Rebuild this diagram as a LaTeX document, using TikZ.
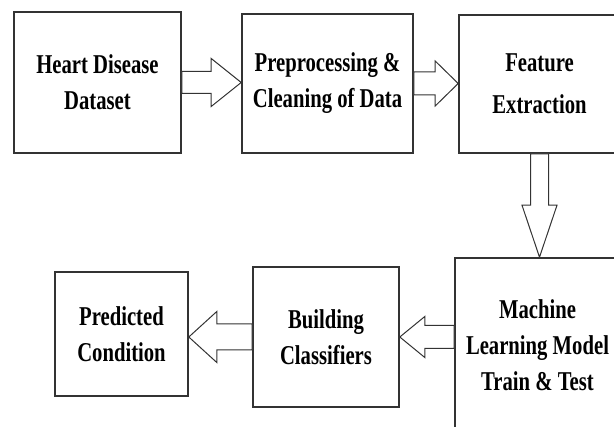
\documentclass[tikz,border=0pt]{standalone}
\usepackage{fontspec}
\setmainfont{Liberation Serif}[FakeStretch=0.76]
\usetikzlibrary{calc}

\begin{document}
\begin{tikzpicture}[
    x=1pt, y=-1pt,
    stage/.style={rectangle, draw=black!80, line width=1.6pt, fill=white,
        align=center, inner sep=0pt,
        font=\bfseries\fontsize{27.2}{36}\selectfont},
    blockarrow/.style args={#1/#2/#3}{draw=black!80, line width=1pt, fill=white,
        to path={
            ($(\tikztostart)!#1!90:(\tikztotarget)$)
            -- ($($(\tikztotarget)!#3!(\tikztostart)$)!#1!90:(\tikztotarget)$)
            -- ($($(\tikztotarget)!#3!(\tikztostart)$)!#2!90:(\tikztotarget)$)
            -- (\tikztotarget)
            -- ($($(\tikztotarget)!#3!(\tikztostart)$)!#2!-90:(\tikztotarget)$)
            -- ($($(\tikztotarget)!#3!(\tikztostart)$)!#1!-90:(\tikztotarget)$)
            -- ($(\tikztostart)!#1!-90:(\tikztotarget)$)
            -- cycle}}
]
    \useasboundingbox (0,0) rectangle (614,427);
    \clip (0,0) rectangle (614,427);
    \node[stage, minimum width=167pt, minimum height=141pt] (data) at (97.5,82.5) {Heart Disease\\Dataset};
    \node[stage, minimum width=171pt, minimum height=139pt] (prep) at (327.5,83.5) {Preprocessing \&\\Cleaning of Data};
    \node[stage, minimum width=161pt, minimum height=138pt,
        font=\bfseries\fontsize{27.2}{42}\selectfont] (feat) at (539.5,84) {Feature\\Extraction};
    \node[stage, minimum width=165pt, minimum height=174pt] (model) at (537.5,345) {Machine\\Learning Model\\Train \& Test};
    \node[stage, minimum width=146pt, minimum height=140pt] (build) at (326,337) {Building\\Classifiers};
    \node[stage, minimum width=133pt, minimum height=124pt] (pred) at (121.5,334) {Predicted\\Condition};
    \draw[blockarrow=11pt/24pt/30pt] (data.east) to (prep.west |- data.east);
    \draw[blockarrow=11.5pt/22.5pt/23pt] (prep.east) to (feat.west |- prep.east);
    \draw[blockarrow=9pt/17.5pt/52pt] (feat.south) to (feat.south |- model.north);
    \draw[blockarrow=11.5pt/20.5pt/25pt] (model.west |- build.east) to (build.east);
    \draw[blockarrow=13pt/25.5pt/28pt] (build.west) to (pred.east |- build.west);
\end{tikzpicture}
\end{document}
